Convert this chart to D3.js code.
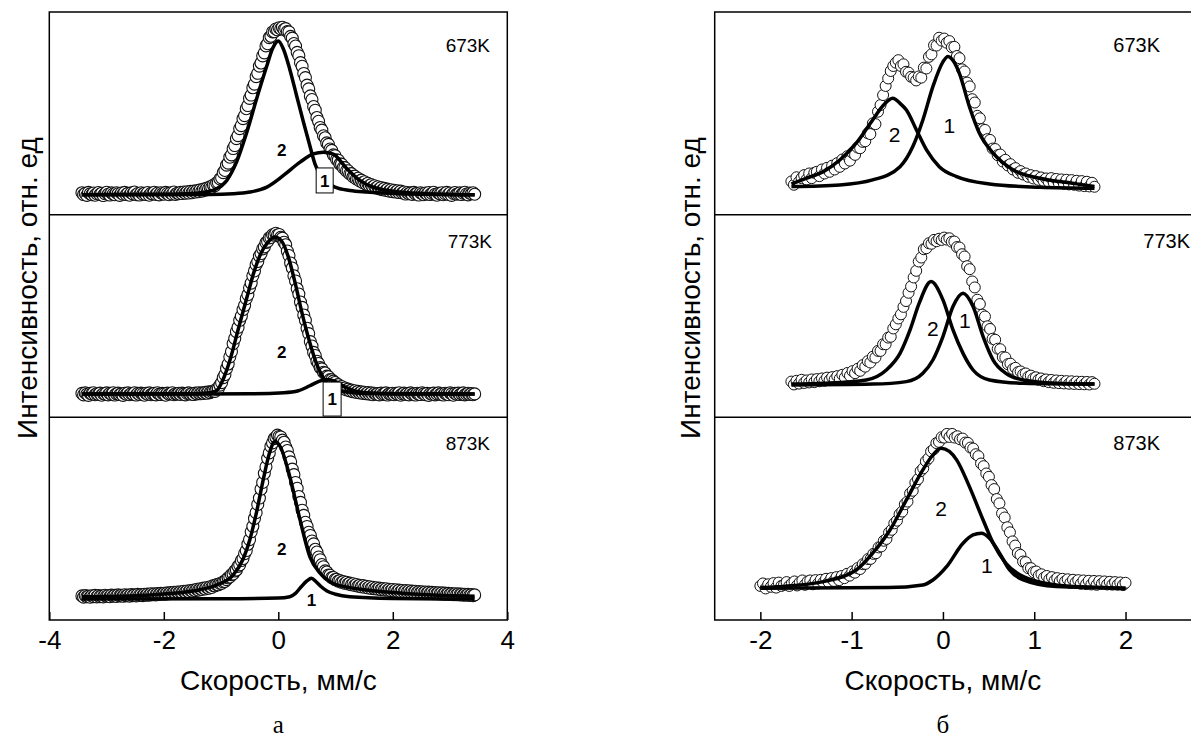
<!DOCTYPE html>
<html>
<head>
<meta charset="utf-8">
<script src="https://cdn.jsdelivr.net/npm/d3@7"></script>
<style>
  body { margin: 0; background: #fff; }
  text { font-family: "Liberation Sans", Arial, sans-serif; fill: #000; }
</style>
</head>
<body>
<svg id="chart" width="1191" height="742"></svg>
<script>
// Mössbauer spectra, relative intensity vs velocity (mm/s)
const temps = ["673K", "773K", "873K"];

// velocity channels: [first, last, count]
const gridA = [-3.43, 3.43, 240];
const gridB = [-1.66, 1.66, 120];
const gridB873 = [-2, 2, 140];

// panel "а" measured points
const a673 = [
  0.012,0.001,0.008,-0.004,0.014,0.005,0.0,0.01,-0.003,0.007,
  0.013,0.002,0.009,-0.005,0.006,0.015,0.003,-0.002,0.011,0.004,
  0.0,0.012,0.006,-0.004,0.01,0.003,0.014,0.001,0.008,-0.003,
  0.011,0.005,0.016,0.0,0.007,-0.002,0.012,0.004,0.009,0.001,
  0.013,-0.003,0.008,0.005,0.015,0.002,0.01,-0.001,0.012,0.006,
  0.003,0.014,0.007,0.0,0.011,0.004,0.016,0.002,0.009,0.006,
  0.014,0.007,0.016,0.009,0.018,0.01,0.02,0.012,0.022,0.016,
  0.025,0.018,0.029,0.022,0.034,0.028,0.04,0.035,0.047,0.045,
  0.058,0.055,0.072,0.074,0.095,0.102,0.133,0.146,0.178,0.19,
  0.226,0.24,0.278,0.296,0.338,0.356,0.398,0.416,0.458,0.476,
  0.518,0.537,0.58,0.6,0.644,0.666,0.711,0.731,0.774,0.793,
  0.836,0.854,0.896,0.909,0.946,0.954,0.98,0.981,0.998,0.993,
  1.005,0.998,1.008,0.995,1.0,0.982,0.98,0.953,0.943,0.91,
  0.895,0.857,0.837,0.795,0.773,0.73,0.705,0.66,0.637,0.595,
  0.573,0.531,0.509,0.465,0.442,0.405,0.389,0.355,0.343,0.312,
  0.303,0.275,0.267,0.24,0.235,0.211,0.208,0.185,0.184,0.163,
  0.163,0.143,0.144,0.125,0.127,0.109,0.112,0.095,0.099,0.083,
  0.088,0.073,0.078,0.063,0.069,0.055,0.061,0.047,0.054,0.041,
  0.048,0.035,0.043,0.03,0.038,0.026,0.034,0.022,0.03,0.019,
  0.027,0.016,0.024,0.013,0.022,0.011,0.016,0.004,0.013,0.006,
  0.011,0.002,0.014,0.005,0.009,-0.002,0.012,0.006,0.0,0.01,
  0.004,0.013,0.001,0.008,0.015,0.003,-0.003,0.009,0.005,0.012,
  0.0,0.007,0.014,0.002,0.01,-0.004,0.008,0.013,0.003,0.006,
  0.011,0.001,0.009,0.015,0.004,-0.001,0.01,0.006,0.012,0.003
];
const a773 = [
  0.024,0.015,0.027,0.019,0.012,0.025,0.021,0.028,0.016,0.022,
  0.018,0.026,0.013,0.023,0.02,0.027,0.015,0.024,0.019,0.028,
  0.014,0.022,0.026,0.017,0.021,0.012,0.025,0.019,0.027,0.016,
  0.023,0.02,0.028,0.014,0.024,0.018,0.026,0.021,0.013,0.025,
  0.019,0.027,0.016,0.022,0.025,0.015,0.028,0.02,0.017,0.024,
  0.021,0.013,0.026,0.019,0.023,0.028,0.016,0.022,0.02,0.025,
  0.018,0.026,0.021,0.015,0.024,0.027,0.019,0.023,0.017,0.026,
  0.021,0.028,0.022,0.027,0.024,0.03,0.025,0.033,0.029,0.035,
  0.038,0.036,0.05,0.053,0.074,0.089,0.119,0.137,0.174,0.201,
  0.244,0.276,0.324,0.355,0.396,0.421,0.464,0.489,0.529,0.554,
  0.594,0.618,0.66,0.688,0.732,0.761,0.799,0.818,0.851,0.866,
  0.894,0.906,0.932,0.939,0.96,0.963,0.979,0.977,0.988,0.978,
  0.981,0.964,0.959,0.934,0.919,0.881,0.854,0.809,0.779,0.732,
  0.701,0.654,0.622,0.574,0.542,0.496,0.464,0.416,0.384,0.336,
  0.309,0.271,0.252,0.218,0.204,0.179,0.172,0.151,0.147,0.128,
  0.125,0.107,0.106,0.098,0.09,0.075,0.077,0.063,0.066,0.053,
  0.057,0.045,0.05,0.039,0.044,0.034,0.04,0.03,0.036,0.027,
  0.033,0.024,0.031,0.022,0.029,0.02,0.027,0.016,0.025,0.019,
  0.023,0.015,0.026,0.018,0.021,0.027,0.014,0.022,0.019,0.025,
  0.016,0.024,0.02,0.028,0.013,0.021,0.026,0.018,0.023,0.015,
  0.027,0.019,0.022,0.014,0.025,0.02,0.017,0.028,0.021,0.016,
  0.024,0.012,0.023,0.019,0.026,0.015,0.021,0.027,0.018,0.022,
  0.014,0.025,0.02,0.016,0.028,0.021,0.013,0.024,0.019,0.026,
  0.017,0.022,0.027,0.015,0.02,0.025,0.018,0.023,0.016,0.021
];
const a873 = [
  0.025,0.018,0.027,0.02,0.024,0.017,0.026,0.021,0.028,0.019,
  0.027,0.021,0.025,0.019,0.029,0.023,0.027,0.02,0.03,0.024,
  0.028,0.022,0.031,0.025,0.029,0.023,0.032,0.026,0.03,0.024,
  0.033,0.027,0.031,0.025,0.034,0.028,0.033,0.027,0.035,0.029,
  0.036,0.03,0.038,0.032,0.037,0.031,0.039,0.034,0.04,0.035,
  0.041,0.036,0.043,0.038,0.045,0.04,0.047,0.042,0.049,0.044,
  0.05,0.045,0.053,0.048,0.055,0.05,0.058,0.054,0.061,0.057,
  0.065,0.06,0.068,0.064,0.072,0.067,0.076,0.071,0.08,0.076,
  0.087,0.086,0.093,0.092,0.1,0.101,0.11,0.112,0.123,
  0.134,0.139,0.153,0.157,0.175,0.181,0.203,0.212,0.238,0.25,
  0.279,0.298,0.336,0.364,0.411,0.444,0.491,0.526,0.576,0.614,
  0.668,0.708,0.763,0.802,0.853,0.886,0.925,0.946,0.972,0.98,
  0.993,0.985,0.982,0.963,0.95,0.921,0.9,0.862,0.832,0.788,
  0.755,0.708,0.673,0.623,0.588,0.541,0.51,0.468,0.443,0.408,
  0.389,0.356,0.338,0.306,0.289,0.259,0.243,0.214,0.201,0.176,
  0.169,0.151,0.149,0.135,0.136,0.123,0.125,0.114,0.117,0.107,
  0.111,0.101,0.107,0.097,0.102,0.092,0.098,0.088,0.094,0.084,
  0.089,0.08,0.087,0.077,0.083,0.073,0.08,0.07,0.077,0.068,
  0.074,0.066,0.072,0.063,0.069,0.061,0.068,0.059,0.065,0.057,
  0.064,0.055,0.062,0.053,0.06,0.051,0.058,0.05,0.057,0.049,
  0.056,0.048,0.054,0.046,0.053,0.045,0.051,0.044,0.05,0.043,
  0.049,0.042,0.048,0.04,0.046,0.039,0.045,0.038,0.044,0.037,
  0.043,0.036,0.042,0.035,0.04,0.034,0.039,0.033,0.038,0.032,
  0.037,0.031,0.036,0.03,0.035,0.029,0.034,0.028,0.033,0.027,0.031
];

// panel "б" measured points
const b673 = [
  0.08,0.06,0.105,0.078,0.1,0.118,0.092,0.128,0.1,0.132,
  0.138,0.112,0.152,0.128,0.162,0.138,0.175,0.152,0.19,0.168,
  0.212,0.188,0.232,0.205,0.252,0.24,0.284,0.28,0.318,0.322,
  0.37,0.365,0.43,0.425,0.5,0.54,0.6,0.655,0.7,0.745,
  0.775,0.795,0.81,0.775,0.785,0.74,0.735,0.71,0.705,0.688,
  0.712,0.705,0.765,0.76,0.83,0.845,0.9,0.898,0.945,0.928,
  0.94,0.915,0.925,0.888,0.89,0.835,0.822,0.755,0.742,0.675,
  0.652,0.575,0.555,0.475,0.46,0.395,0.39,0.335,0.33,0.278,
  0.275,0.238,0.242,0.2,0.21,0.176,0.184,0.152,0.16,0.132,
  0.142,0.122,0.128,0.108,0.118,0.098,0.112,0.09,0.104,0.084,
  0.098,0.078,0.1,0.072,0.095,0.07,0.092,0.066,0.09,0.062,
  0.088,0.06,0.084,0.055,0.082,0.052,0.078,0.05,0.072,0.048
];
const b773 = [
  0.095,0.078,0.1,0.083,0.106,0.087,0.102,0.09,0.108,0.092,
  0.11,0.097,0.114,0.1,0.119,0.104,0.122,0.108,0.128,0.113,
  0.136,0.12,0.147,0.13,0.158,0.146,0.172,0.16,0.194,0.185,
  0.218,0.21,0.245,0.24,0.28,0.28,0.32,0.32,0.36,0.365,
  0.415,0.44,0.475,0.5,0.545,0.58,0.63,0.668,0.722,0.762,
  0.818,0.842,0.892,0.898,0.928,0.925,0.948,0.94,0.955,0.948,
  0.962,0.95,0.958,0.937,0.938,0.905,0.902,0.862,0.848,0.79,
  0.772,0.698,0.662,0.588,0.562,0.498,0.487,0.428,0.412,0.353,
  0.347,0.293,0.29,0.243,0.24,0.2,0.203,0.171,0.178,0.152,
  0.156,0.138,0.144,0.124,0.131,0.114,0.121,0.106,0.114,0.098,
  0.108,0.092,0.105,0.088,0.102,0.086,0.1,0.084,0.098,0.082,
  0.097,0.081,0.095,0.08,0.094,0.079,0.093,0.078,0.092,0.082
];
const b873 = [
  0.085,0.1,0.07,0.095,0.08,0.102,0.075,0.105,0.085,0.092,
  0.108,0.085,0.1,0.112,0.088,0.106,0.118,0.092,0.112,0.118,
  0.095,0.12,0.1,0.122,0.106,0.128,0.108,0.132,0.115,0.138,
  0.12,0.145,0.132,0.158,0.147,0.172,0.165,0.192,0.187,0.216,
  0.218,0.247,0.248,0.278,0.282,0.317,0.323,0.357,0.368,0.407,
  0.423,0.462,0.478,0.517,0.533,0.577,0.593,0.642,0.658,0.707,
  0.728,0.776,0.793,0.836,0.853,0.895,0.908,0.945,0.952,0.98,
  0.978,1.0,0.982,1.0,0.978,0.986,0.968,0.972,0.948,0.946,
  0.918,0.912,0.878,0.866,0.822,0.806,0.762,0.742,0.692,0.668,
  0.608,0.582,0.522,0.497,0.438,0.408,0.353,0.328,0.283,0.272,
  0.232,0.228,0.192,0.192,0.168,0.172,0.148,0.155,0.135,0.145,
  0.125,0.138,0.118,0.132,0.114,0.128,0.112,0.125,0.103,0.122,
  0.106,0.12,0.098,0.118,0.096,0.116,0.094,0.115,0.092,0.114,
  0.098,0.112,0.094,0.11,0.093,0.108,0.092,0.106,0.09,0.104
];

// fitted subspectra 1 and 2: [velocity, intensity]
const a673fit1 = [[-3.43,0],[-1.2,0.002],[-0.79,0.006],[-0.5,0.016],[-0.2,0.046],[0.09,0.116],[0.38,0.196],[0.61,0.246],[0.79,0.256],[0.96,0.244],[1.19,0.16],[1.43,0.085],[1.66,0.045],[2.13,0.016],[2.71,0.005],[3.43,0]];
const a673fit2 = [[-3.43,0],[-2.0,0.003],[-1.5,0.008],[-1.3,0.015],[-1.08,0.036],[-0.9,0.086],[-0.73,0.196],[-0.55,0.376],[-0.38,0.576],[-0.2,0.776],[-0.1,0.88],[0,0.926],[0.09,0.876],[0.2,0.756],[0.32,0.596],[0.44,0.436],[0.55,0.296],[0.64,0.186],[0.75,0.11],[0.87,0.07],[0.99,0.046],[1.25,0.026],[1.54,0.016],[2.13,0.006],[3.43,0]];
const a773fit1 = [[-3.43,0.02],[-0.5,0.022],[0.1,0.028],[0.35,0.04],[0.55,0.07],[0.7,0.095],[0.85,0.108],[1.0,0.095],[1.15,0.065],[1.35,0.038],[1.6,0.026],[2.0,0.021],[3.43,0.02]];
const a773fit2 = [[-3.43,0.02],[-1.5,0.022],[-1.2,0.028],[-1.08,0.04],[-0.95,0.12],[-0.84,0.23],[-0.7,0.41],[-0.55,0.6],[-0.42,0.76],[-0.3,0.87],[-0.18,0.935],[-0.06,0.965],[0.06,0.94],[0.18,0.84],[0.3,0.68],[0.42,0.5],[0.55,0.33],[0.67,0.2],[0.8,0.11],[0.95,0.06],[1.15,0.035],[1.5,0.024],[3.43,0.02]];
const a873fit1 = [[-3.43,0.006],[-1,0.008],[0,0.012],[0.2,0.02],[0.3,0.04],[0.4,0.08],[0.5,0.115],[0.58,0.131],[0.66,0.11],[0.75,0.08],[0.85,0.055],[1.0,0.035],[1.25,0.02],[2.0,0.01],[3.43,0.006]];
const a873fit2 = [[-3.43,0.02],[-2.5,0.026],[-1.95,0.038],[-1.37,0.062],[-1.08,0.09],[-0.79,0.15],[-0.61,0.25],[-0.5,0.36],[-0.38,0.53],[-0.26,0.73],[-0.15,0.89],[-0.06,0.954],[0.04,0.92],[0.2,0.744],[0.38,0.483],[0.55,0.262],[0.73,0.162],[0.96,0.1],[1.25,0.075],[1.54,0.06],[2.2,0.04],[3.3,0.024],[3.43,0.023]];

const b673fit1 = [[-1.66,0.049],[-1.13,0.059],[-0.77,0.089],[-0.47,0.169],[-0.33,0.29],[-0.22,0.45],[-0.11,0.651],[0.0,0.8],[0.055,0.832],[0.12,0.8],[0.18,0.731],[0.29,0.53],[0.4,0.37],[0.55,0.25],[0.77,0.149],[1.06,0.099],[1.42,0.069],[1.66,0.049]];
const b673fit2 = [[-1.66,0.065],[-1.5,0.099],[-1.31,0.139],[-1.13,0.209],[-0.95,0.31],[-0.77,0.45],[-0.65,0.54],[-0.55,0.581],[-0.47,0.55],[-0.4,0.51],[-0.29,0.39],[-0.18,0.27],[-0.04,0.169],[0.15,0.109],[0.51,0.065],[1.06,0.045],[1.66,0.039]];
const b773fit1 = [[-1.66,0.075],[-0.77,0.08],[-0.4,0.095],[-0.22,0.145],[-0.11,0.225],[0,0.366],[0.11,0.547],[0.22,0.627],[0.33,0.547],[0.44,0.366],[0.55,0.225],[0.69,0.145],[0.88,0.105],[1.24,0.085],[1.66,0.08]];
const b773fit2 = [[-1.66,0.08],[-1.31,0.085],[-0.84,0.105],[-0.62,0.165],[-0.47,0.265],[-0.36,0.406],[-0.26,0.567],[-0.13,0.697],[0,0.587],[0.11,0.406],[0.22,0.265],[0.33,0.165],[0.51,0.105],[0.88,0.085],[1.66,0.08]];
const b873fit1 = [[-2,0.071],[-0.6,0.075],[-0.22,0.091],[-0.11,0.121],[0.04,0.201],[0.22,0.342],[0.33,0.392],[0.42,0.402],[0.51,0.372],[0.62,0.282],[0.73,0.181],[0.88,0.121],[1.24,0.081],[2.0,0.071]];
const b873fit2 = [[-2,0.075],[-1.7,0.085],[-1.31,0.111],[-0.95,0.181],[-0.77,0.282],[-0.58,0.422],[-0.4,0.603],[-0.22,0.784],[-0.1,0.88],[-0.02,0.914],[0.07,0.895],[0.15,0.844],[0.29,0.683],[0.44,0.482],[0.55,0.342],[0.69,0.221],[0.88,0.141],[1.24,0.091],[1.6,0.078],[2.0,0.071]];

// tick values
const ticksA = [-4, -2, 0, 2, 4];
const ticksB = [-2, -1, 0, 1, 2];

// subspectrum numbers, placed in data units of their row
const labelsA = [
  { row: 0, text: "2", v: 0.06, y: 0.27 },
  { row: 0, text: "1", v: 0.81, y: 0.086, box: [17, 25] },
  { row: 1, text: "2", v: 0.06, y: 0.275 },
  { row: 1, text: "1", v: 0.94, y: -0.01, box: [18, 34] },
  { row: 2, text: "2", v: 0.06, y: 0.31 },
  { row: 2, text: "1", v: 0.58, y: 0.0 }
];
const labelsB = [
  { row: 0, text: "2", v: -0.53, y: 0.36 },
  { row: 0, text: "1", v: 0.07, y: 0.42 },
  { row: 1, text: "2", v: -0.11, y: 0.416 },
  { row: 1, text: "1", v: 0.24, y: 0.465 },
  { row: 2, text: "2", v: -0.02, y: 0.553 },
  { row: 2, text: "1", v: 0.48, y: 0.211 }
];

const svg = d3.select("#chart");
const top0 = 12, bottom0 = 620;
const rowH = (bottom0 - top0) / 3;

function channels(g) {
  const [from, to, n] = g;
  return d3.range(n).map(i => from + i * (to - from) / (n - 1));
}

const panels = [
  {
    range: [49.3, 507.3], domain: [-4, 4], ticks: ticksA, caption: "а",
    ylabX: 37, labels: labelsA, boldNums: true, numSize: 17, tempSize: 19,
    tempX: [490, 492, 490], dotR: 6, dotW: 1.1,
    rows: [
      { obs: a673, grid: gridA, fits: [a673fit1, a673fit2] },
      { obs: a773, grid: gridA, fits: [a773fit1, a773fit2] },
      { obs: a873, grid: gridA, fits: [a873fit1, a873fit2] }
    ]
  },
  {
    range: [714.7, 1194], domain: [-2.5, 2.75], ticks: ticksB, caption: "б",
    ylabX: 700, labels: labelsB, boldNums: false, numSize: 21, tempSize: 20,
    tempX: [1160, 1190, 1160], dotR: 5.5, dotW: 1,
    rows: [
      { obs: b673, grid: gridB, fits: [b673fit1, b673fit2] },
      { obs: b773, grid: gridB, fits: [b773fit1, b773fit2] },
      { obs: b873, grid: gridB873, fits: [b873fit1, b873fit2] }
    ]
  }
];

panels.forEach(p => {
  const x = d3.scaleLinear(p.domain, p.range);
  const g = svg.append("g");

  p.rows.forEach((r, ri) => {
    const y = d3.scaleLinear([-0.12, 1.1], [top0 + (ri + 1) * rowH, top0 + ri * rowH]);
    const vel = channels(r.grid);
    const pts = r.obs.map((d, i) => [vel[i], d]);

    g.append("g").selectAll("circle")
      .data(pts)
      .join("circle")
      .attr("cx", d => x(d[0]))
      .attr("cy", d => y(d[1]))
      .attr("r", p.dotR)
      .attr("fill", "#fff")
      .attr("stroke", "#111")
      .attr("stroke-width", p.dotW);

    const line = d3.line()
      .x(d => x(d[0]))
      .y(d => y(d[1]))
      .curve(d3.curveMonotoneX);

    r.fits.forEach(f => {
      g.append("path")
        .attr("d", line(f))
        .attr("fill", "none")
        .attr("stroke", "#000")
        .attr("stroke-width", 3.5)
        .attr("stroke-linejoin", "round");
    });

    g.append("text")
      .attr("x", p.tempX[ri])
      .attr("y", top0 + ri * rowH + (ri === 0 ? 40 : 33))
      .attr("text-anchor", "end")
      .attr("font-size", p.tempSize)
      .text(temps[ri]);

    p.labels.filter(l => l.row === ri).forEach(l => {
      const cx = x(l.v), cy = y(l.y);
      if (l.box) {
        g.append("rect")
          .attr("x", cx - l.box[0] / 2)
          .attr("y", cy - l.box[1] / 2)
          .attr("width", l.box[0])
          .attr("height", l.box[1])
          .attr("fill", "#fff")
          .attr("stroke", "#000")
          .attr("stroke-width", 1);
      }
      g.append("text")
        .attr("x", cx)
        .attr("y", cy)
        .attr("dy", "0.36em")
        .attr("text-anchor", "middle")
        .attr("font-size", p.numSize)
        .attr("font-weight", p.boldNums ? "bold" : "normal")
        .text(l.text);
    });
  });

  // frame and row dividers
  g.append("rect")
    .attr("x", p.range[0]).attr("y", top0)
    .attr("width", p.range[1] - p.range[0]).attr("height", bottom0 - top0)
    .attr("fill", "none").attr("stroke", "#000").attr("stroke-width", 1.5);
  [1, 2].forEach(k => {
    g.append("line")
      .attr("x1", p.range[0]).attr("x2", p.range[1])
      .attr("y1", top0 + k * rowH).attr("y2", top0 + k * rowH)
      .attr("stroke", "#000").attr("stroke-width", 1.5);
  });

  const axis = d3.axisBottom(x)
    .tickValues(p.ticks)
    .tickFormat(d => String(d))
    .tickSizeInner(-8)
    .tickSizeOuter(0)
    .tickPadding(11);
  const ax = g.append("g").attr("transform", `translate(0,${bottom0})`).call(axis);
  ax.select(".domain").remove();
  ax.selectAll(".tick line").attr("stroke", "#000").attr("stroke-width", 1.5);
  ax.selectAll(".tick text")
    .attr("font-size", 26)
    .attr("font-family", "Liberation Sans, Arial, sans-serif")
    .attr("fill", "#000");

  g.append("text")
    .attr("x", x(0)).attr("y", 690)
    .attr("text-anchor", "middle")
    .attr("font-size", 28)
    .text("Скорость, мм/с");

  g.append("text")
    .attr("transform", `translate(${p.ylabX},288) rotate(-90)`)
    .attr("text-anchor", "middle")
    .attr("font-size", 28)
    .text("Интенсивность, отн. ед");

  g.append("text")
    .attr("x", x(0)).attr("y", 733)
    .attr("text-anchor", "middle")
    .attr("font-size", 25)
    .style("font-family", "'Liberation Serif', 'Times New Roman', serif")
    .text(p.caption);
});
</script>
</body>
</html>
